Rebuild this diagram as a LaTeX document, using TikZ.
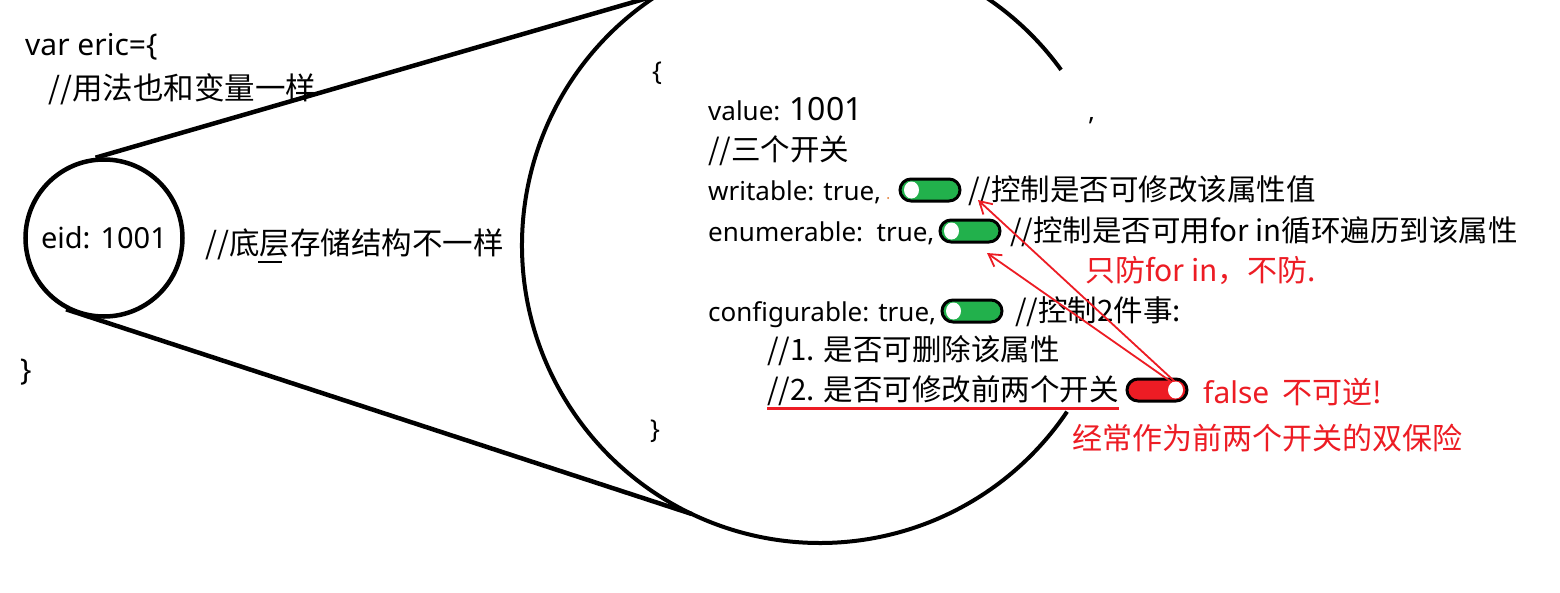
\documentclass[tikz,border=0pt]{standalone}
\usepackage{fontspec}
\setmainfont{Noto Sans}
\newfontfamily\cjk{Noto Sans CJK SC}
\usetikzlibrary{arrows.meta,calc,shapes.geometric}
\definecolor{pgreen}{HTML}{22B14C}
\definecolor{pred}{HTML}{ED1C24}
\definecolor{dotorange}{HTML}{E07020}
\begin{document}
\begin{tikzpicture}[x=1pt,y=1pt,
  txt/.style={anchor=base west, inner sep=0pt, font=\fontsize{26}{32}\selectfont},
  ctxt/.style={anchor=base west, inner sep=0pt, font=\fontsize{29.5}{34}\selectfont\cjk},
  ltxt/.style={anchor=base west, inner sep=0pt, font=\fontsize{30.5}{38}\selectfont\cjk},
  rtxt/.style={anchor=base west, inner sep=0pt, text=pred, font=\fontsize{30}{34}\selectfont\cjk},
  toggle/.style={draw=black, line width=3pt, rounded corners=11pt, minimum width=60pt, minimum height=22pt, inner sep=0pt},
  knob/.style={ellipse, fill=white, minimum width=15pt, minimum height=17pt, inner sep=0pt},
  heavy/.style={line width=4.5pt},
  redarrow/.style={draw=pred, line width=1.8pt, -{Straight Barb[length=12pt,width=14pt]}}
]
\useasboundingbox (0,0) rectangle (1560,-592);
\fill[white] (0,0) rectangle (1560,-592);

% left part
\node[txt, font=\fontsize{30}{36}\selectfont] (var) at (25,-55) {var eric=\{};
\node[ltxt] (c1) at (48,-99) {//用法也和变量一样};
\node[circle, draw, line width=4.5pt, minimum size=157pt, inner sep=0pt,
      font=\fontsize{29}{36}\selectfont] (small) at (104,-238) {eid: 1001};
\node[ltxt] (c2) at (205,-254) {//底层存储结构不一样};
\draw[line width=1.5pt] (258,-262) -- (282,-262);
\node[txt, font=\fontsize{30}{36}\selectfont] (rb1) at (20,-380) {\}};

% big circle
\coordinate (bigc) at (820,-245);
\coordinate (bt) at ($(bigc)+(123:298pt)$);
\coordinate (bb) at ($(bigc)+(244.5:298pt)$);
\draw[line width=4pt] (bigc) ++(36:298pt) arc[start angle=36, end angle=326, radius=298pt];
\draw[heavy] (small.96) -- (bt);
\draw[heavy] (small.242) -- (bb);

% right part
\node[txt] (lb2) at (652,-80) {\{};
\node[txt] (val) at (708,-120) {value: {\fontsize{32}{38}\selectfont 1001}};
\node[txt] (comma) at (1088,-120) {,};
\node[ctxt] (c3) at (708,-160) {//三个开关};
\node[txt] (wr) at (708,-200) {writable: true,};
\fill[dotorange] (888,-198) circle (1pt);
\node[toggle, fill=pgreen] (t1) at (930,-190) {};
\node[knob] (k1) at ([xshift=13pt]t1.west) {};
\node[ctxt] (c4) at (968,-200) {//控制是否可修改该属性值};
\node[txt] (en) at (708,-241) {enumerable:\ \ true,};
\node[toggle, fill=pgreen] (t2) at (970,-231) {};
\node[knob] (k2) at ([xshift=13pt]t2.west) {};
\node[ctxt] (c5) at (1010,-241) {//控制是否可用for in循环遍历到该属性};
\node[rtxt] (r1) at (1085,-281) {只防for in，不防.};
\node[txt] (cf) at (708,-321) {configurable: true,};
\node[toggle, fill=pgreen] (t3) at (972,-311) {};
\node[knob] (k3) at ([xshift=13pt]t3.west) {};
\node[ctxt] (c6) at (1015,-321) {//控制2件事:};
\node[ctxt] (c7) at (767,-360) {//1. 是否可删除该属性};
\node[ctxt] (c8) at (767,-400) {//2. 是否可修改前两个开关};
\draw[pred, line width=3pt] ([yshift=-8pt]c8.base west) -- ([yshift=-8pt]c8.base east);
\node[toggle, fill=pred] (t4) at (1157,-390) {};
\node[knob] (k4) at ([xshift=-13pt]t4.east) {};
\node[rtxt] (r2) at (1203,-403) {{\rmfamily false}\ \ 不可逆!};
\node[rtxt] (r3) at (1072,-449) {经常作为前两个开关的双保险};
\node[txt] (rb2) at (650,-438) {\}};

\coordinate (a1) at (978,-200);
\coordinate (a2) at (987,-253);
\draw[redarrow] ([xshift=-1pt]k4.north) -- (a1);
\draw[redarrow] ([xshift=-5pt]k4.north) -- (a2);
\end{tikzpicture}
\end{document}
